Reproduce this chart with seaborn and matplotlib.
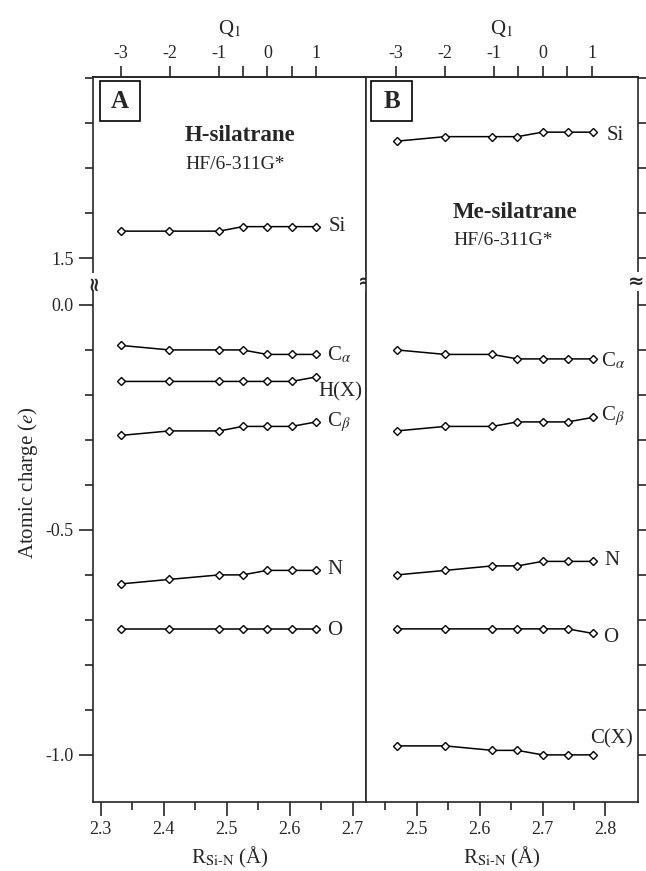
import numpy as np
import matplotlib
matplotlib.use('Agg')
import matplotlib.pyplot as plt
from matplotlib.ticker import FixedLocator, FixedFormatter, FormatStrFormatter
from matplotlib.patches import Rectangle
import seaborn as sns

# Q1 positions of the seven points (top axis)
q1 = [-3, -2, -1, -0.5, 0, 0.5, 1]

# panel A: H-silatrane, HF/6-311G*
r_a = [2.332, 2.409, 2.488, 2.525, 2.564, 2.603, 2.642]
si_a = [1.56, 1.56, 1.56, 1.57, 1.57, 1.57, 1.57]
ca_a = [-0.09, -0.10, -0.10, -0.10, -0.11, -0.11, -0.11]
hx_a = [-0.17, -0.17, -0.17, -0.17, -0.17, -0.17, -0.16]
cb_a = [-0.29, -0.28, -0.28, -0.27, -0.27, -0.27, -0.26]
n_a = [-0.62, -0.61, -0.60, -0.60, -0.59, -0.59, -0.59]
o_a = [-0.72, -0.72, -0.72, -0.72, -0.72, -0.72, -0.72]

# panel B: Me-silatrane, HF/6-311G*
r_b = [2.468, 2.545, 2.620, 2.660, 2.700, 2.740, 2.780]
si_b = [1.76, 1.77, 1.77, 1.77, 1.78, 1.78, 1.78]
ca_b = [-0.10, -0.11, -0.11, -0.12, -0.12, -0.12, -0.12]
cb_b = [-0.28, -0.27, -0.27, -0.26, -0.26, -0.26, -0.25]
n_b = [-0.60, -0.59, -0.58, -0.58, -0.57, -0.57, -0.57]
o_b = [-0.72, -0.72, -0.72, -0.72, -0.72, -0.72, -0.73]
cx_b = [-0.98, -0.98, -0.99, -0.99, -1.00, -1.00, -1.00]

series_a = [('Si', si_a), (r'C$_\alpha$', ca_a), ('H(X)', hx_a),
            (r'C$_\beta$', cb_a), ('N', n_a), ('O', o_a)]
series_b = [('Si', si_b), (r'C$_\alpha$', ca_b), (r'C$_\beta$', cb_b),
            ('N', n_b), ('O', o_b), ('C(X)', cx_b)]

# label offsets from last point, in pixels
offs_a = [(12, 0), (11, -1), (2, -15), (11, 0), (11, 1), (11, -2)]
offs_b = [(14, -3), (8, -2), (8, 1), (12, 1), (10, -4), (-3, 16)]

sns.set_style('ticks')
plt.rcParams['font.family'] = ['Liberation Serif', 'DejaVu Serif']
plt.rcParams['mathtext.fontset'] = 'stix'
plt.rcParams['axes.unicode_minus'] = False
plt.rcParams['axes.linewidth'] = 1.2

# broken y axis: 1.5 sits just above 0.0
GAP = 0.104
YLIM = (-1.104, 1.902)


def fwd(v):
    v = np.asarray(v, dtype=float)
    return np.where(v > 0.75, v - 1.5 + GAP, v)


def inv(y):
    y = np.asarray(y, dtype=float)
    return np.where(y > GAP / 2, y + 1.5 - GAP, y)


fig = plt.figure(figsize=(6.46, 8.71), dpi=100)
ax_a = fig.add_axes([0.1444, 0.0796, 0.4222, 0.8317])
ax_b = fig.add_axes([0.5666, 0.0796, 0.4210, 0.8317])


def draw_panel(ax, r, series, offs, xlim, majors, minors):
    for (name, vals), off in zip(series, offs):
        sns.lineplot(x=r, y=vals, ax=ax, color='k', lw=1.1, marker='D',
                     markersize=4, markerfacecolor='white',
                     markeredgecolor='k', markeredgewidth=1.0, legend=False)
        ax.annotate(name, xy=(r[-1], vals[-1]), xytext=off,
                    textcoords='offset pixels', ha='left', va='center',
                    fontsize=15)
    ax.set_yscale('function', functions=(fwd, inv))
    ax.set_ylim(*YLIM)
    ax.set_xlim(*xlim)
    ax.yaxis.set_major_locator(FixedLocator([1.5, 0.0, -0.5, -1.0]))
    ax.yaxis.set_major_formatter(FixedFormatter(['1.5', '0.0', '-0.5', '-1.0']))
    ax.yaxis.set_minor_locator(FixedLocator([1.9, 1.8, 1.7, 1.6, -0.1, -0.2, -0.3, -0.4,
                                             -0.6, -0.7, -0.8, -0.9]))
    ax.xaxis.set_major_locator(FixedLocator(majors))
    ax.xaxis.set_minor_locator(FixedLocator(minors))
    ax.xaxis.set_major_formatter(FormatStrFormatter('%.1f'))
    ax.tick_params(axis='x', which='major', direction='out', length=10, width=1.2,
                   labelsize=13, pad=4, top=False)
    ax.tick_params(axis='x', which='minor', direction='out', length=6, width=1.2, top=False)
    ax.set_xlabel(r'R$_{\mathrm{Si\text{-}N}}$ (Å)', fontsize=15, labelpad=5)
    ax.set_ylabel('')
    for sp in ax.spines.values():
        sp.set_visible(True)
        sp.set_linewidth(1.2)

    m, b = np.polyfit(q1, r, 1)
    sec = ax.secondary_xaxis('top', functions=(lambda x: (x - b) / m,
                                               lambda q: q * m + b))
    sec.xaxis.set_major_locator(FixedLocator([-3, -2, -1, 0, 1]))
    sec.xaxis.set_major_formatter(FixedFormatter(['-3', '-2', '-1', '0', '1']))
    sec.xaxis.set_minor_locator(FixedLocator([-0.5, 0.5]))
    sec.tick_params(which='both', direction='out', length=8, width=1.2,
                    labelsize=13, pad=3)
    sec.spines['top'].set_linewidth(1.2)
    sec.set_xlabel(r'Q$_1$', fontsize=15, labelpad=8)
    return sec


draw_panel(ax_a, r_a, series_a, offs_a, (2.288, 2.721),
           [2.3, 2.4, 2.5, 2.6, 2.7], [2.35, 2.45, 2.55, 2.65])
draw_panel(ax_b, r_b, series_b, offs_b, (2.419, 2.852),
           [2.5, 2.6, 2.7, 2.8], [2.45, 2.55, 2.65, 2.75])

ax_a.tick_params(axis='y', which='major', left=True, right=False, direction='out',
                 length=10, width=1.2, labelsize=13, pad=4)
ax_a.tick_params(axis='y', which='minor', left=True, right=False, direction='out',
                 length=6, width=1.2)
ax_b.tick_params(axis='y', which='both', left=False, right=True, labelleft=False,
                 direction='out', length=8, width=1.2)

# panel tags
for ax, tag, x0, w, xc in [(ax_a, 'A', 0.0246, 0.1467, 0.098),
                           (ax_b, 'B', 0.0184, 0.1507, 0.0938)]:
    ax.add_patch(Rectangle((x0, 0.9397), w, 0.0552, transform=ax.transAxes,
                           fill=False, lw=1.2, ec='k'))
    ax.text(xc, 0.967, tag, transform=ax.transAxes, ha='center', va='center',
            fontsize=18, fontweight='bold')

ax_a.text(0.336, 0.920, 'H-silatrane', transform=ax_a.transAxes, ha='left',
          va='center', fontsize=16.5, fontweight='bold')
ax_a.text(0.336, 0.879, 'HF/6-311G*', transform=ax_a.transAxes, ha='left',
          va='center', fontsize=14)
ax_b.text(0.320, 0.8127, 'Me-silatrane', transform=ax_b.transAxes, ha='left',
          va='center', fontsize=16.5, fontweight='bold')
ax_b.text(0.320, 0.774, 'HF/6-311G*', transform=ax_b.transAxes, ha='left',
          va='center', fontsize=14)

# break marks on the vertical frame lines
lo, hi = fwd(YLIM[0]), fwd(YLIM[1])
yb = (GAP / 2 - lo) / (hi - lo)
brk = dict(ha='center', va='center', fontsize=14, fontweight='bold',
           family='DejaVu Sans', clip_on=False, zorder=5,
           bbox=dict(boxstyle='square,pad=0.0', fc='white', ec='none'))
ax_a.text(0.0, yb, '≈', transform=ax_a.transAxes, rotation=90, **brk)
ax_a.text(1.0, yb, '≈', transform=ax_a.transAxes, **brk)
ax_b.text(0.995, yb, '≈', transform=ax_b.transAxes, **brk)

fig.text(28 / 646, 1 - 483 / 871, 'Atomic charge ($e$)', rotation=90,
         ha='center', va='center', fontsize=15)

fig.savefig('out.png', dpi=100)
